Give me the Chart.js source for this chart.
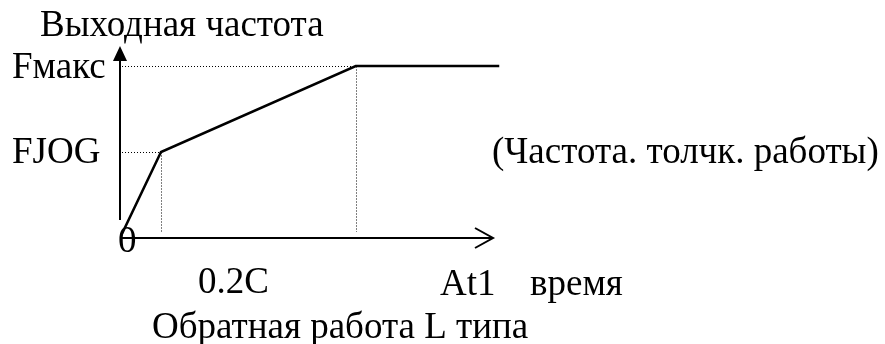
<!DOCTYPE html>
<html>
<head>
<meta charset="utf-8">
<script src="https://cdn.jsdelivr.net/npm/chart.js@4"></script>
<style>
  html, body { margin: 0; padding: 0; background: #fff; }
  canvas { display: block; }
</style>
</head>
<body>
<canvas id="grafico" width="885" height="344"></canvas>
<script>
// Datos del gráfico (unidades relativas)
const tiempos = [0, 0.2, 1.15, 1.85];
const frecuencias = [0, 25, 50, 50];
const frecuenciaJog = 25;
const frecuenciaMax = 50;
const tiempoJog = 0.2;
const tiempoAt1 = 1.15;
const etiquetasY = ["FJOG", "Fмакс"];
const etiquetasX = ["0.2C", "At1"];
const tituloY = "Выходная частота";
const tituloX = "время";
const notaJog = "(Частота. толчк. работы)";
const pieGrafico = "Обратная работа L типа";

const fuente = "37px 'Liberation Serif', 'Times New Roman', serif";

// Plugin para dibujar ejes con flechas, líneas punteadas y textos
const ejesPlugin = {
  id: "ejes",
  afterDatasetsDraw(chart) {
    const ctx = chart.ctx;
    const xs = chart.scales.x;
    const ys = chart.scales.y;
    const x0 = xs.getPixelForValue(0);
    const y0 = ys.getPixelForValue(0);

    ctx.save();
    ctx.strokeStyle = "#000";
    ctx.fillStyle = "#000";

    // líneas punteadas (alineadas al pixel)
    ctx.lineWidth = 1;
    ctx.setLineDash([1, 2]);
    const xJog = Math.round(xs.getPixelForValue(tiempoJog)) + 0.5;
    const yJog = Math.round(ys.getPixelForValue(frecuenciaJog)) + 0.5;
    const xAt = Math.round(xs.getPixelForValue(tiempoAt1)) + 0.5;
    const yMax = Math.round(ys.getPixelForValue(frecuenciaMax)) + 0.5;
    ctx.beginPath();
    ctx.moveTo(x0 + 2, yJog); ctx.lineTo(xJog, yJog);
    ctx.moveTo(xJog, yJog); ctx.lineTo(xJog, y0 - 5);
    ctx.moveTo(x0 + 2, yMax); ctx.lineTo(xAt, yMax);
    ctx.moveTo(xAt, yMax); ctx.lineTo(xAt, y0 - 6);
    ctx.stroke();
    ctx.setLineDash([]);

    // eje Y con flecha rellena
    ctx.lineWidth = 2;
    const yTop = 46;
    ctx.beginPath();
    ctx.moveTo(x0, y0 - 18);
    ctx.lineTo(x0, yTop + 12);
    ctx.stroke();
    ctx.beginPath();
    ctx.moveTo(x0, yTop);
    ctx.lineTo(x0 - 7, yTop + 15);
    ctx.lineTo(x0 + 7, yTop + 15);
    ctx.closePath();
    ctx.fill();

    // eje X con flecha abierta
    const xEnd = 493;
    ctx.beginPath();
    ctx.moveTo(x0, y0);
    ctx.lineTo(xEnd, y0);
    ctx.moveTo(xEnd - 18, y0 - 10);
    ctx.lineTo(xEnd, y0);
    ctx.lineTo(xEnd - 18, y0 + 10);
    ctx.stroke();

    // textos
    ctx.font = fuente;
    ctx.textAlign = "left";
    ctx.textBaseline = "alphabetic";
    ctx.fillText(tituloY, 40, 36);
    ctx.fillText(etiquetasY[1], 12, 78);
    ctx.fillText(etiquetasY[0], 12, 163);
    ctx.fillText(notaJog, 492, 163);
    ctx.fillText("0", 118, 252);
    ctx.fillText(etiquetasX[0], 198, 293);
    ctx.fillText(etiquetasX[1], 440, 295);
    ctx.fillText(tituloX, 530, 295);
    ctx.fillText(pieGrafico, 152, 338);
    ctx.restore();
  }
};

const ctx = document.getElementById("grafico").getContext("2d");
new Chart(ctx, {
  type: "scatter",
  data: {
    datasets: [{
      data: tiempos.map((t, i) => ({ x: t, y: frecuencias[i] })),
      showLine: true,
      borderColor: "#000",
      borderWidth: 2.5,
      pointRadius: 0,
      tension: 0
    }]
  },
  options: {
    responsive: false,
    animation: false,
    layout: { padding: { left: 120, right: 355, top: 31.6, bottom: 106 } },
    plugins: { legend: { display: false }, tooltip: { enabled: false } },
    scales: {
      x: { type: "linear", min: 0, max: 2, display: false },
      y: { type: "linear", min: 0, max: 60, display: false }
    }
  },
  plugins: [ejesPlugin]
});
</script>
</body>
</html>
